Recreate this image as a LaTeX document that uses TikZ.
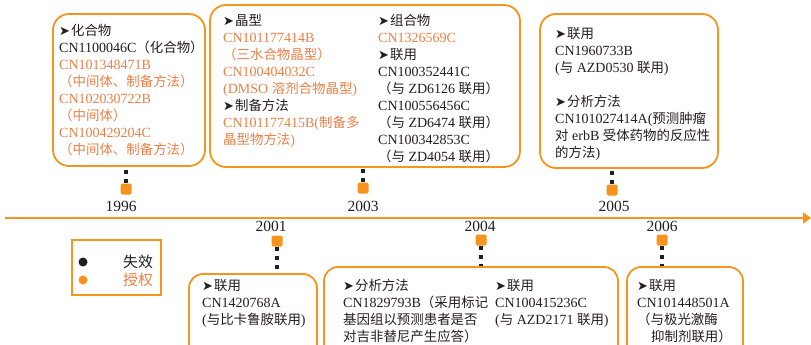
\documentclass[tikz,border=0pt]{standalone}
\usepackage{fontspec}
\setmainfont{Liberation Serif}
\newfontfamily\cjk[Scale=0.96]{Noto Sans CJK SC}
\newfontfamily\dejavu{DejaVu Sans}
\usetikzlibrary{arrows.meta}
\definecolor{ob}{RGB}{247,148,29}
\definecolor{ot}{RGB}{236,128,72}
\definecolor{tk}{RGB}{35,31,32}
\newcommand\zh[1]{{\cjk #1}}
\newcommand\arr{{\dejavu\fontsize{13}{13}\selectfont ➤}\hspace{1pt}}
\newcommand\oc[1]{\textcolor{ot}{#1}}
\tikzset{
  bigbox/.style={draw=ob, line width=1.8pt, rounded corners=16pt, inner sep=0pt},
  lowbox/.style={draw=ob, line width=1.8pt, rounded corners=14pt, inner sep=0pt},
  txt/.style={anchor=north west, inner sep=0pt, align=left, font=\fontsize{14}{17}\selectfont, text=tk},
  yr/.style={inner sep=0pt, font=\fontsize{15.5}{16}\selectfont, text=tk},
  mk/.style={fill=ob, rounded corners=1.5pt, minimum size=11pt, inner sep=0pt},
  conn/.style={draw=tk, line width=3.2pt, dash pattern=on 4pt off 5pt},
  timeline/.style={draw=ob, line width=2pt, -{Triangle[length=8pt,width=11pt]}},
  dot/.style={circle, inner sep=0pt, minimum size=9pt},
}
\begin{document}
\begin{tikzpicture}[x=1pt,y=-1pt]
\useasboundingbox (0,0) rectangle (811,345);
\clip (0,0) rectangle (811,345);
\fill[white] (0,0) rectangle (811,345);

% timeline
\coordinate (tl0) at (5,218);
\coordinate (tl1) at (811,218);
\draw[timeline] (tl0) -- (tl1);

% boxes
\node[bigbox, minimum width=152pt, minimum height=152pt] (b1) at (129,90) {};
\node[bigbox, minimum width=310pt, minimum height=162pt] (b2) at (365,86) {};
\node[bigbox, minimum width=178pt, minimum height=154pt] (b3) at (629,91) {};
\node[lowbox, minimum width=128pt, minimum height=96pt] (b4) at (253,322) {};
\node[lowbox, minimum width=294pt, minimum height=103pt] (b5) at (471,318.5) {};
\node[lowbox, minimum width=116pt, minimum height=103pt] (b6) at (685,318.5) {};

% markers
\node[mk] (s1996) at (126,189) {};
\node[mk] (s2003) at (363,188) {};
\node[mk] (s2005) at (612,190) {};
\node[mk] (s2001) at (277,241) {};
\node[mk] (s2004) at (481,240) {};
\node[mk] (s2006) at (662,240) {};

% connectors
\draw[conn] (s1996.north) -- (s1996.north |- b1.south);
\draw[conn] (s2003.north) -- (s2003.north |- b2.south);
\draw[conn] (s2005.north) -- (s2005.north |- b3.south);
\draw[conn] (s2001.south) -- (s2001.south |- b4.north);
\draw[conn] (s2004.south) -- (s2004.south |- b5.north);
\draw[conn] (s2006.south) -- (s2006.south |- b6.north);

% years
\node[yr] (y1996) at (121,206) {1996};
\node[yr] (y2003) at (363,206) {2003};
\node[yr] (y2005) at (614,206) {2005};
\node[yr] (y2001) at (271,226) {2001};
\node[yr] (y2004) at (480,226) {2004};
\node[yr] (y2006) at (662,226) {2006};

% box texts
\node[txt] (t1) at (59,24) {\arr\zh{化合物}\\
CN1100046C\zh{（化合物）}\\
\oc{CN101348471B}\\
\oc{\zh{（中间体、制备方法）}}\\
\oc{CN102030722B}\\
\oc{\zh{（中间体）}}\\
\oc{CN100429204C}\\
\oc{\zh{（中间体、制备方法）}}};

\node[txt] (t2a) at (223,14) {\arr\zh{晶型}\\
\oc{CN101177414B}\\
\oc{\zh{（三水合物晶型）}}\\
\oc{CN100404032C}\\
\oc{(DMSO \zh{溶剂合物晶型})}\\
\arr\zh{制备方法}\\
\oc{CN101177415B(\zh{制备多}}\\
\oc{\zh{晶型物方法}) }};

\node[txt] (t2b) at (378,14) {\arr\zh{组合物}\\
\oc{CN1326569C}\\
\arr\zh{联用}\\
CN100352441C\\
\zh{（与} ZD6126 \zh{联用）}\\
CN100556456C\\
\zh{（与} ZD6474 \zh{联用）}\\
CN100342853C\\
\zh{（与} ZD4054 \zh{联用）}};

\node[txt] (t3) at (555,27) {\arr\zh{联用}\\
CN1960733B\\
(\zh{与} AZD0530 \zh{联用})\\
\mbox{}\\
\arr\zh{分析方法}\\
CN101027414A(\zh{预测肿瘤}\\
\zh{对} erbB \zh{受体药物的反应性}\\
\zh{的方法})};

\node[txt] (t4) at (202,279) {\arr\zh{联用}\\
CN1420768A\\
(\zh{与比卡鲁胺联用})};

\node[txt] (t5a) at (343,279) {\arr\zh{分析方法}\\
CN1829793B\zh{（采用标记}\\
\zh{基因组以预测患者是否}\\
\zh{对吉非替尼产生应答）}};

\node[txt] (t5b) at (495,279) {\arr\zh{联用}\\
CN100415236C\\
(\zh{与} AZD2171 \zh{联用})};

\node[txt] (t6) at (637,279) {\arr\zh{联用}\\
CN101448501A\\
\zh{（与极光激酶}\\
\hspace{14pt}\zh{抑制剂联用）}};

% legend
\node[draw=ob, line width=1.2pt, minimum width=89pt, minimum height=55pt, inner sep=0pt] (lg) at (116.5,267.5) {};
\node[dot, fill=tk] (d1) at (83,262) {};
\node[dot, fill=ob] (d2) at (83,280) {};
\node[inner sep=0pt, font=\cjk\fontsize{15.5}{16}\selectfont, text=tk] (l1) at (138,262) {失效};
\node[inner sep=0pt, font=\cjk\fontsize{15.5}{16}\selectfont, text=ot] (l2) at (138,280) {授权};
\end{tikzpicture}
\end{document}
